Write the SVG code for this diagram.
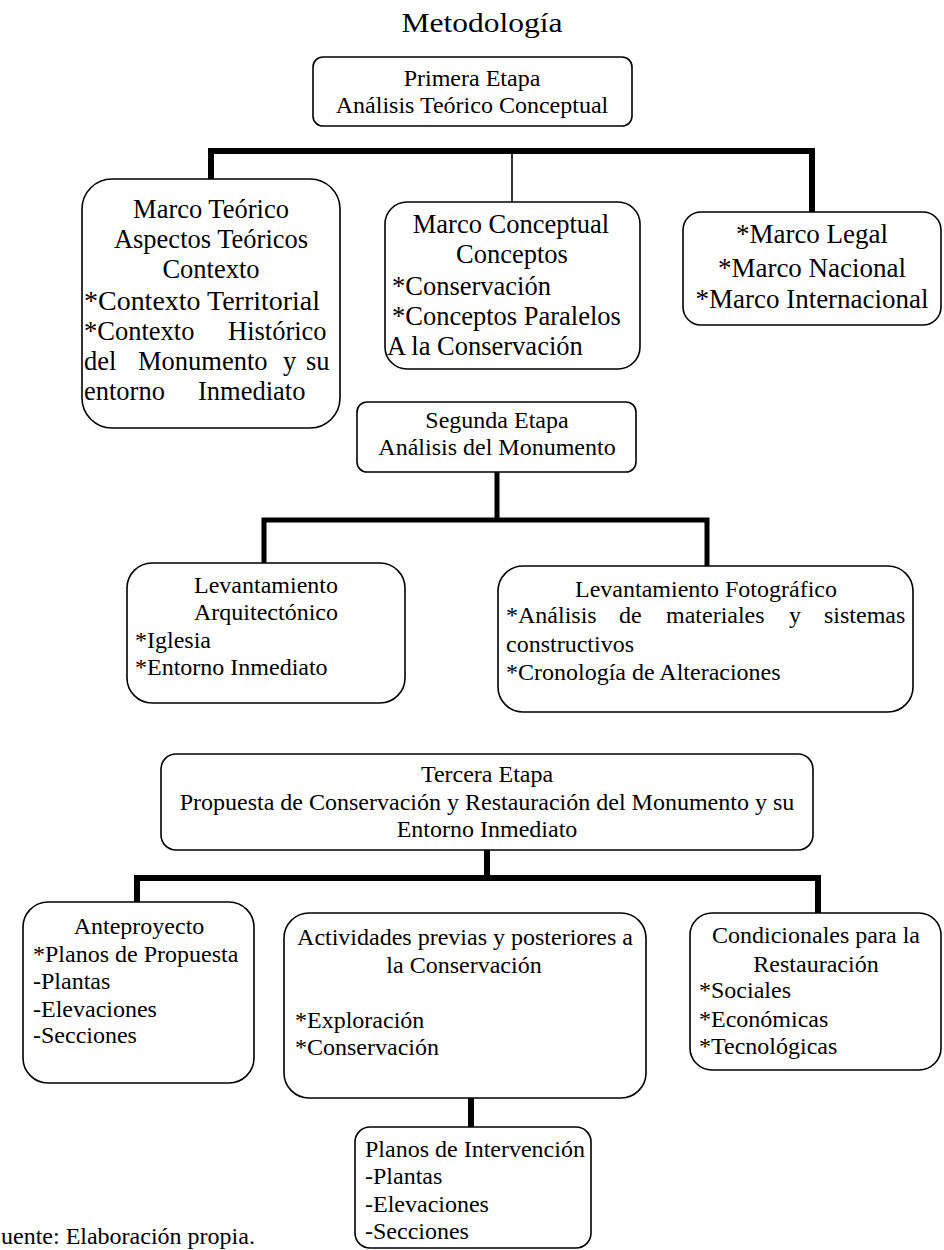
<svg xmlns="http://www.w3.org/2000/svg" width="944" height="1250" viewBox="0 0 944 1250">
<style>
  text { font-family: "Liberation Serif", "Times New Roman", serif; fill: #000; }
  .t24 { font-size: 24px; }
  .t26 { font-size: 26.5px; }
  .t27 { font-size: 27px; }
  .c { text-anchor: middle; }
  .box { fill: #fff; stroke: #000; stroke-width: 1.6; }
  .thick { fill: none; stroke: #000; stroke-width: 6; stroke-linejoin: miter; stroke-linecap: butt; }
  .thin { fill: none; stroke: #000; stroke-width: 1.6; }
</style>
<rect x="0" y="0" width="944" height="1250" fill="#fff"/>
<text id="title" x="482" y="32" class="c" style="font-size:28px" textLength="161" lengthAdjust="spacingAndGlyphs">Metodología</text>

<g id="connectors">
  <path class="thick" d="M211,180 V151 H812 V212"/>
  <path class="thin" d="M512,151 V202"/>
  <path class="thick" style="stroke-width:5" d="M497,472 V520"/>
  <path class="thick" style="stroke-width:5" d="M264,563 V520 H707 V566"/>
  <path class="thick" d="M487,850 V878"/>
  <path class="thick" d="M137,902 V878 H818 V913"/>
  <path class="thick" d="M471,1098 V1127"/>
</g>

<g id="primera">
  <rect class="box" x="313" y="57" width="319" height="69" rx="10"/>
  <text class="t24 c" x="472" y="86">Primera Etapa</text>
  <text class="t24 c" x="472" y="113">Análisis Teórico Conceptual</text>
</g>

<g id="marco-teorico">
  <rect class="box" x="82" y="179" width="258" height="249" rx="30"/>
  <text class="t26 c" x="211" y="218">Marco Teórico</text>
  <text class="t26 c" x="211" y="248">Aspectos Teóricos</text>
  <text class="t26 c" x="211" y="278">Contexto</text>
  <text class="t26" x="84" y="310" textLength="236" lengthAdjust="spacingAndGlyphs">*Contexto Territorial</text>
  <text class="t26" y="340"><tspan x="84">*Contexto</tspan><tspan x="228">Histórico</tspan></text>
  <text class="t26" y="370"><tspan x="84">del</tspan><tspan x="138">Monumento</tspan><tspan x="283">y</tspan><tspan x="306">su</tspan></text>
  <text class="t26" y="400"><tspan x="84">entorno</tspan><tspan x="198">Inmediato</tspan></text>
</g>

<g id="marco-conceptual">
  <rect class="box" x="385" y="202" width="255" height="167" rx="22"/>
  <text class="t26 c" x="511" y="233">Marco Conceptual</text>
  <text class="t26 c" x="512" y="263">Conceptos</text>
  <text class="t26" x="392" y="295">*Conservación</text>
  <text class="t26" x="392" y="325">*Conceptos Paralelos</text>
  <text class="t26" x="387" y="355">A la Conservación</text>
</g>

<g id="marco-legal">
  <rect class="box" x="683" y="212" width="258" height="113" rx="18"/>
  <text class="t27 c" x="812" y="243">*Marco Legal</text>
  <text class="t27 c" x="812" y="277">*Marco Nacional</text>
  <text class="t27 c" x="812" y="308">*Marco Internacional</text>
</g>

<g id="segunda">
  <rect class="box" x="357" y="402" width="279" height="70" rx="10"/>
  <text class="t24 c" x="497" y="428">Segunda Etapa</text>
  <text class="t24 c" x="497" y="455">Análisis del Monumento</text>
</g>

<g id="lev-arquitectonico">
  <rect class="box" x="127" y="563" width="278" height="140" rx="25"/>
  <text class="t24 c" x="266" y="593">Levantamiento</text>
  <text class="t24 c" x="266" y="620">Arquitectónico</text>
  <text class="t24" x="135" y="648">*Iglesia</text>
  <text class="t24" x="135" y="675">*Entorno Inmediato</text>
</g>

<g id="lev-fotografico">
  <rect class="box" x="498" y="566" width="415" height="146" rx="25"/>
  <text class="t24 c" x="706" y="597">Levantamiento Fotográfico</text>
  <text class="t24" y="623"><tspan x="506">*Análisis</tspan><tspan x="619">de</tspan><tspan x="666">materiales</tspan><tspan x="789">y</tspan><tspan x="824">sistemas</tspan></text>
  <text class="t24" x="506" y="652">constructivos</text>
  <text class="t24" x="506" y="680">*Cronología de Alteraciones</text>
</g>

<g id="tercera">
  <rect class="box" x="161" y="754" width="652" height="96" rx="15"/>
  <text class="t24 c" x="487" y="782">Tercera Etapa</text>
  <text class="t24 c" x="487" y="810">Propuesta de Conservación y Restauración del Monumento y su</text>
  <text class="t24 c" x="487" y="837">Entorno Inmediato</text>
</g>

<g id="anteproyecto">
  <rect class="box" x="23" y="902" width="231" height="181" rx="25"/>
  <text class="t24 c" x="139" y="934">Anteproyecto</text>
  <text class="t24" x="33" y="962">*Planos de Propuesta</text>
  <text class="t24" x="33" y="989">-Plantas</text>
  <text class="t24" x="33" y="1017">-Elevaciones</text>
  <text class="t24" x="33" y="1043">-Secciones</text>
</g>

<g id="actividades">
  <rect class="box" x="284" y="913" width="362" height="185" rx="25"/>
  <text class="t24 c" x="465" y="945">Actividades previas y posteriores a</text>
  <text class="t24 c" x="464" y="973">la Conservación</text>
  <text class="t24" x="295" y="1028">*Exploración</text>
  <text class="t24" x="295" y="1055">*Conservación</text>
</g>

<g id="condicionales">
  <rect class="box" x="690" y="913" width="251" height="157" rx="22"/>
  <text class="t24 c" x="816" y="943">Condicionales para la</text>
  <text class="t24 c" x="816" y="972">Restauración</text>
  <text class="t24" x="699" y="998">*Sociales</text>
  <text class="t24" x="699" y="1027">*Económicas</text>
  <text class="t24" x="699" y="1054">*Tecnológicas</text>
</g>

<g id="planos-intervencion">
  <rect class="box" x="355" y="1127" width="236" height="121" rx="15"/>
  <text class="t24" x="365" y="1157">Planos de Intervención</text>
  <text class="t24" x="365" y="1184">-Plantas</text>
  <text class="t24" x="365" y="1212">-Elevaciones</text>
  <text class="t24" x="365" y="1239">-Secciones</text>
</g>

<text id="fuente" class="t24" x="1" y="1244">uente: Elaboración propia.</text>
</svg>
